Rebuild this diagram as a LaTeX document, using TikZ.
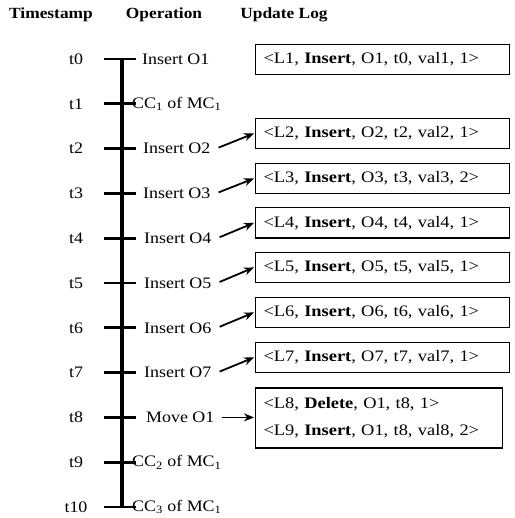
\documentclass[tikz,border=0pt]{standalone}
\usepackage{fontspec}
\setmainfont{Liberation Serif}
% a slightly widened serif for the diagram text
\newfontfamily\widefont[FakeStretch=1.12]{Liberation Serif}
\newfontfamily\logfont[FakeStretch=1.15]{Liberation Serif}
\usetikzlibrary{arrows.meta}

\begin{document}
\begin{tikzpicture}[x=1pt,y=-1pt,
  hdr/.style={font=\widefont\fontsize{15.5}{18}\selectfont\bfseries, inner sep=0pt},
  txt/.style={font=\widefont\fontsize{16}{19}\selectfont, inner sep=0pt},
  tslabel/.style={txt},
  oplabel/.style={txt, anchor=west},
  axisline/.style={line width=3.4pt},
  tickline/.style={line width=2.8pt},
  logbox/.style={draw, line width=1.1pt, font=\logfont\fontsize{16}{19}\selectfont,
    text width=238pt, align=left, inner xsep=8pt, inner ysep=0pt,
    minimum height=30pt, anchor=south west},
  arr/.style={line width=1.8pt, -{Stealth[length=10pt,width=8pt]}}
]
\useasboundingbox (0,0) rectangle (514,518);

% column headings
\node[hdr] (hts)  at (51,15)  {Timestamp};
\node[hdr] (hop)  at (164,15) {Operation};
\node[hdr] (hlog) at (284,15) {Update Log};

% time axis
\coordinate (top) at (122,59);
\coordinate (bot) at (122,507);
\draw[axisline] (top) -- (bot);

% ticks and timestamp labels
\foreach \i in {0,...,10} {
  \pgfmathsetmacro{\yy}{59+44.8*\i}
  \coordinate (tl\i) at (104,\yy);
  \coordinate (tr\i) at (136,\yy);
  \draw[tickline] (tl\i) -- (tr\i);
  \node[tslabel] (ts\i) at (76,\yy) {t\i};
}

% operations
\node[oplabel] (op0) at (142,59)    {Insert O1};
\node[oplabel] (op1) at (132,103.8) {CC\textsubscript{1} of MC\textsubscript{1}};
\node[oplabel] (op2) at (143,148.6) {Insert O2};
\node[oplabel] (op3) at (143,193.4) {Insert O3};
\node[oplabel] (op4) at (144,238.2) {Insert O4};
\node[oplabel] (op5) at (144,283)   {Insert O5};
\node[oplabel] (op6) at (144,327.8) {Insert O6};
\node[oplabel] (op7) at (144,372.6) {Insert O7};
\node[oplabel] (op8) at (146,417.4) {Move O1};
\node[oplabel] (op9) at (132,462.2) {CC\textsubscript{2} of MC\textsubscript{1}};
\node[oplabel] (op10) at (132,507)  {CC\textsubscript{3} of MC\textsubscript{1}};

% update log entries
\node[logbox, anchor=west] (log1) at (255,59.5) {<L1, \textbf{Insert}, O1, t0, val1, 1>};
\node[logbox] (log2) at (255,149) {<L2, \textbf{Insert}, O2, t2, val2, 1>};
\node[logbox] (log3) at (255,194) {<L3, \textbf{Insert}, O3, t3, val3, 2>};
\node[logbox] (log4) at (255,238.5) {<L4, \textbf{Insert}, O4, t4, val4, 1>};
\node[logbox] (log5) at (255,283) {<L5, \textbf{Insert}, O5, t5, val5, 1>};
\node[logbox] (log6) at (255,328) {<L6, \textbf{Insert}, O6, t6, val6, 1>};
\node[logbox] (log7) at (255,373) {<L7, \textbf{Insert}, O7, t7, val7, 1>};
\node[logbox, anchor=west, text width=231pt, minimum height=60pt] (log8) at (255,418)
  {<L8, \textbf{Delete}, O1, t8, 1>\\[8pt]<L9, \textbf{Insert}, O1, t8, val8, 2>};

% connectors from operations to log entries
\foreach \i in {2,...,7} {
  \draw[arr] ([xshift=8pt,yshift=1pt]op\i.east) -- ([xshift=-1pt]log\i.west);
}
\draw[arr] ([xshift=7pt]op8.east) -- ([xshift=-1pt]op8.east -| log8.west);
\end{tikzpicture}
\end{document}
